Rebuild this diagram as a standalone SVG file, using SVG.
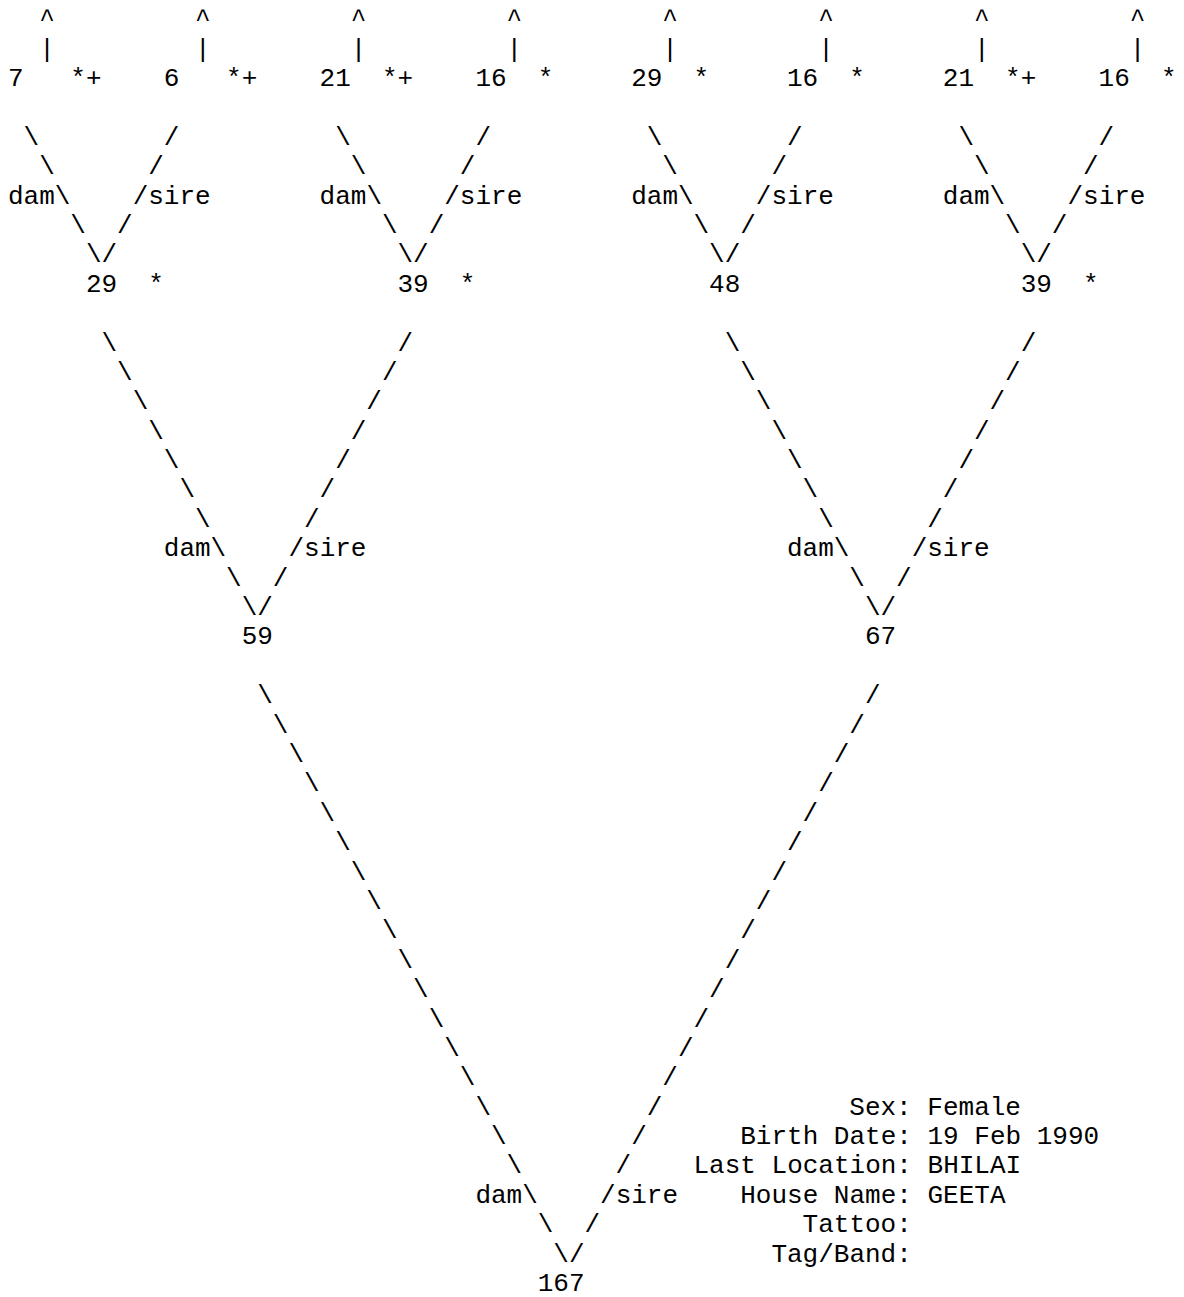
<svg xmlns="http://www.w3.org/2000/svg" width="1184" height="1297" viewBox="0 0 1184 1297">
<style>
text{font-family:"Liberation Mono","Courier New",monospace;font-size:26px;fill:#000;}
</style>
<rect x="0" y="0" width="1184" height="1297" fill="#fff"/>
<g id="connectors">
  <g id="up-arrows">
    <text x="39.16 39.16" y="27.2 56.6">^|</text>
    <text x="194.96 194.96" y="27.2 56.6">^|</text>
    <text x="350.76 350.76" y="27.2 56.6">^|</text>
    <text x="506.56 506.56" y="27.2 56.6">^|</text>
    <text x="662.36 662.36" y="27.2 56.6">^|</text>
    <text x="818.16 818.16" y="27.2 56.6">^|</text>
    <text x="973.96 973.96" y="27.2 56.6">^|</text>
    <text x="1129.76 1129.76" y="27.2 56.6">^|</text>
  </g>
  <g id="edges-to-29b">
    <text x="23.58" y="144.8">\</text><text x="39.16" y="174.2">\</text><text x="8" y="203.5">dam\</text><text x="70.32" y="232.9">\</text><text x="85.9" y="262.3">\</text>
    <text x="163.8" y="144.8">/</text><text x="148.22" y="174.2">/</text><text x="132.64" y="203.5">/sire</text><text x="117.06" y="232.9">/</text><text x="101.48" y="262.3">/</text>
  </g>
  <g id="edges-to-39a">
    <text x="335.18" y="144.8">\</text><text x="350.76" y="174.2">\</text><text x="319.6" y="203.5">dam\</text><text x="381.92" y="232.9">\</text><text x="397.5" y="262.3">\</text>
    <text x="475.4" y="144.8">/</text><text x="459.82" y="174.2">/</text><text x="444.24" y="203.5">/sire</text><text x="428.66" y="232.9">/</text><text x="413.08" y="262.3">/</text>
  </g>
  <g id="edges-to-48">
    <text x="646.78" y="144.8">\</text><text x="662.36" y="174.2">\</text><text x="631.2" y="203.5">dam\</text><text x="693.52" y="232.9">\</text><text x="709.1" y="262.3">\</text>
    <text x="787" y="144.8">/</text><text x="771.42" y="174.2">/</text><text x="755.84" y="203.5">/sire</text><text x="740.26" y="232.9">/</text><text x="724.68" y="262.3">/</text>
  </g>
  <g id="edges-to-39b">
    <text x="958.38" y="144.8">\</text><text x="973.96" y="174.2">\</text><text x="942.8" y="203.5">dam\</text><text x="1005.12" y="232.9">\</text><text x="1020.7" y="262.3">\</text>
    <text x="1098.6" y="144.8">/</text><text x="1083.02" y="174.2">/</text><text x="1067.44" y="203.5">/sire</text><text x="1051.86" y="232.9">/</text><text x="1036.28" y="262.3">/</text>
  </g>
  <g id="edges-to-59">
    <text x="101.48" y="350.5">\</text><text x="117.06" y="379.9">\</text><text x="132.64" y="409.3">\</text><text x="148.22" y="438.7">\</text><text x="163.8" y="468.1">\</text><text x="179.38" y="497.4">\</text><text x="194.96" y="526.8">\</text>
    <text x="163.8" y="556.2">dam\</text><text x="226.12" y="585.6">\</text><text x="241.7" y="615">\</text>
    <text x="397.5" y="350.5">/</text><text x="381.92" y="379.9">/</text><text x="366.34" y="409.3">/</text><text x="350.76" y="438.7">/</text><text x="335.18" y="468.1">/</text><text x="319.6" y="497.4">/</text><text x="304.02" y="526.8">/</text>
    <text x="288.44" y="556.2">/sire</text><text x="272.86" y="585.6">/</text><text x="257.28" y="615">/</text>
  </g>
  <g id="edges-to-67">
    <text x="724.68" y="350.5">\</text><text x="740.26" y="379.9">\</text><text x="755.84" y="409.3">\</text><text x="771.42" y="438.7">\</text><text x="787" y="468.1">\</text><text x="802.58" y="497.4">\</text><text x="818.16" y="526.8">\</text>
    <text x="787" y="556.2">dam\</text><text x="849.32" y="585.6">\</text><text x="864.9" y="615">\</text>
    <text x="1020.7" y="350.5">/</text><text x="1005.12" y="379.9">/</text><text x="989.54" y="409.3">/</text><text x="973.96" y="438.7">/</text><text x="958.38" y="468.1">/</text><text x="942.8" y="497.4">/</text><text x="927.22" y="526.8">/</text>
    <text x="911.64" y="556.2">/sire</text><text x="896.06" y="585.6">/</text><text x="880.48" y="615">/</text>
  </g>
  <g id="edges-to-167">
    <text x="257.28" y="703.2">\</text><text x="272.86" y="732.6">\</text><text x="288.44" y="761.9">\</text><text x="304.02" y="791.3">\</text><text x="319.6" y="820.7">\</text><text x="335.18" y="850.1">\</text><text x="350.76" y="879.5">\</text><text x="366.34" y="908.9">\</text><text x="381.92" y="938.3">\</text><text x="397.5" y="967.7">\</text><text x="413.08" y="997.1">\</text><text x="428.66" y="1026.5">\</text><text x="444.24" y="1055.9">\</text><text x="459.82" y="1085.2">\</text><text x="475.4" y="1114.6">\</text><text x="490.98" y="1144">\</text><text x="506.56" y="1173.4">\</text>
    <text x="475.4" y="1202.8">dam\</text><text x="537.72" y="1232.2">\</text><text x="553.3" y="1261.6">\</text>
    <text x="864.9" y="703.2">/</text><text x="849.32" y="732.6">/</text><text x="833.74" y="761.9">/</text><text x="818.16" y="791.3">/</text><text x="802.58" y="820.7">/</text><text x="787" y="850.1">/</text><text x="771.42" y="879.5">/</text><text x="755.84" y="908.9">/</text><text x="740.26" y="938.3">/</text><text x="724.68" y="967.7">/</text><text x="709.1" y="997.1">/</text><text x="693.52" y="1026.5">/</text><text x="677.94" y="1055.9">/</text><text x="662.36" y="1085.2">/</text><text x="646.78" y="1114.6">/</text><text x="631.2" y="1144">/</text><text x="615.62" y="1173.4">/</text>
    <text x="600.04" y="1202.8">/sire</text><text x="584.46" y="1232.2">/</text><text x="568.88" y="1261.6">/</text>
  </g>
</g>
<g id="node-7"><text x="8" y="86">7</text><text x="70.32" y="86">*+</text></g>
<g id="node-6"><text x="163.8" y="86">6</text><text x="226.12" y="86">*+</text></g>
<g id="node-21a"><text x="319.6" y="86">21</text><text x="381.92" y="86">*+</text></g>
<g id="node-16a"><text x="475.4" y="86">16</text><text x="537.72" y="86">*</text></g>
<g id="node-29a"><text x="631.2" y="86">29</text><text x="693.52" y="86">*</text></g>
<g id="node-16b"><text x="787" y="86">16</text><text x="849.32" y="86">*</text></g>
<g id="node-21b"><text x="942.8" y="86">21</text><text x="1005.12" y="86">*+</text></g>
<g id="node-16c"><text x="1098.6" y="86">16</text><text x="1160.92" y="86">*</text></g>
<g id="node-29b"><text x="85.9" y="291.7">29</text><text x="148.22" y="291.7">*</text></g>
<g id="node-39a"><text x="397.5" y="291.7">39</text><text x="459.82" y="291.7">*</text></g>
<g id="node-48"><text x="709.1" y="291.7">48</text></g>
<g id="node-39b"><text x="1020.7" y="291.7">39</text><text x="1083.02" y="291.7">*</text></g>
<g id="node-59"><text x="241.7" y="644.4">59</text></g>
<g id="node-67"><text x="864.9" y="644.4">67</text></g>
<g id="node-167"><text x="537.72" y="1291">167</text></g>
<g id="info">
  <text x="849.32" y="1114.6">Sex: Female</text>
  <text x="740.26" y="1144">Birth Date: 19 Feb 1990</text>
  <text x="693.52" y="1173.4">Last Location: BHILAI</text>
  <text x="740.26" y="1202.8">House Name: GEETA</text>
  <text x="802.58" y="1232.2">Tattoo:</text>
  <text x="771.42" y="1261.6">Tag/Band:</text>
</g>
</svg>
